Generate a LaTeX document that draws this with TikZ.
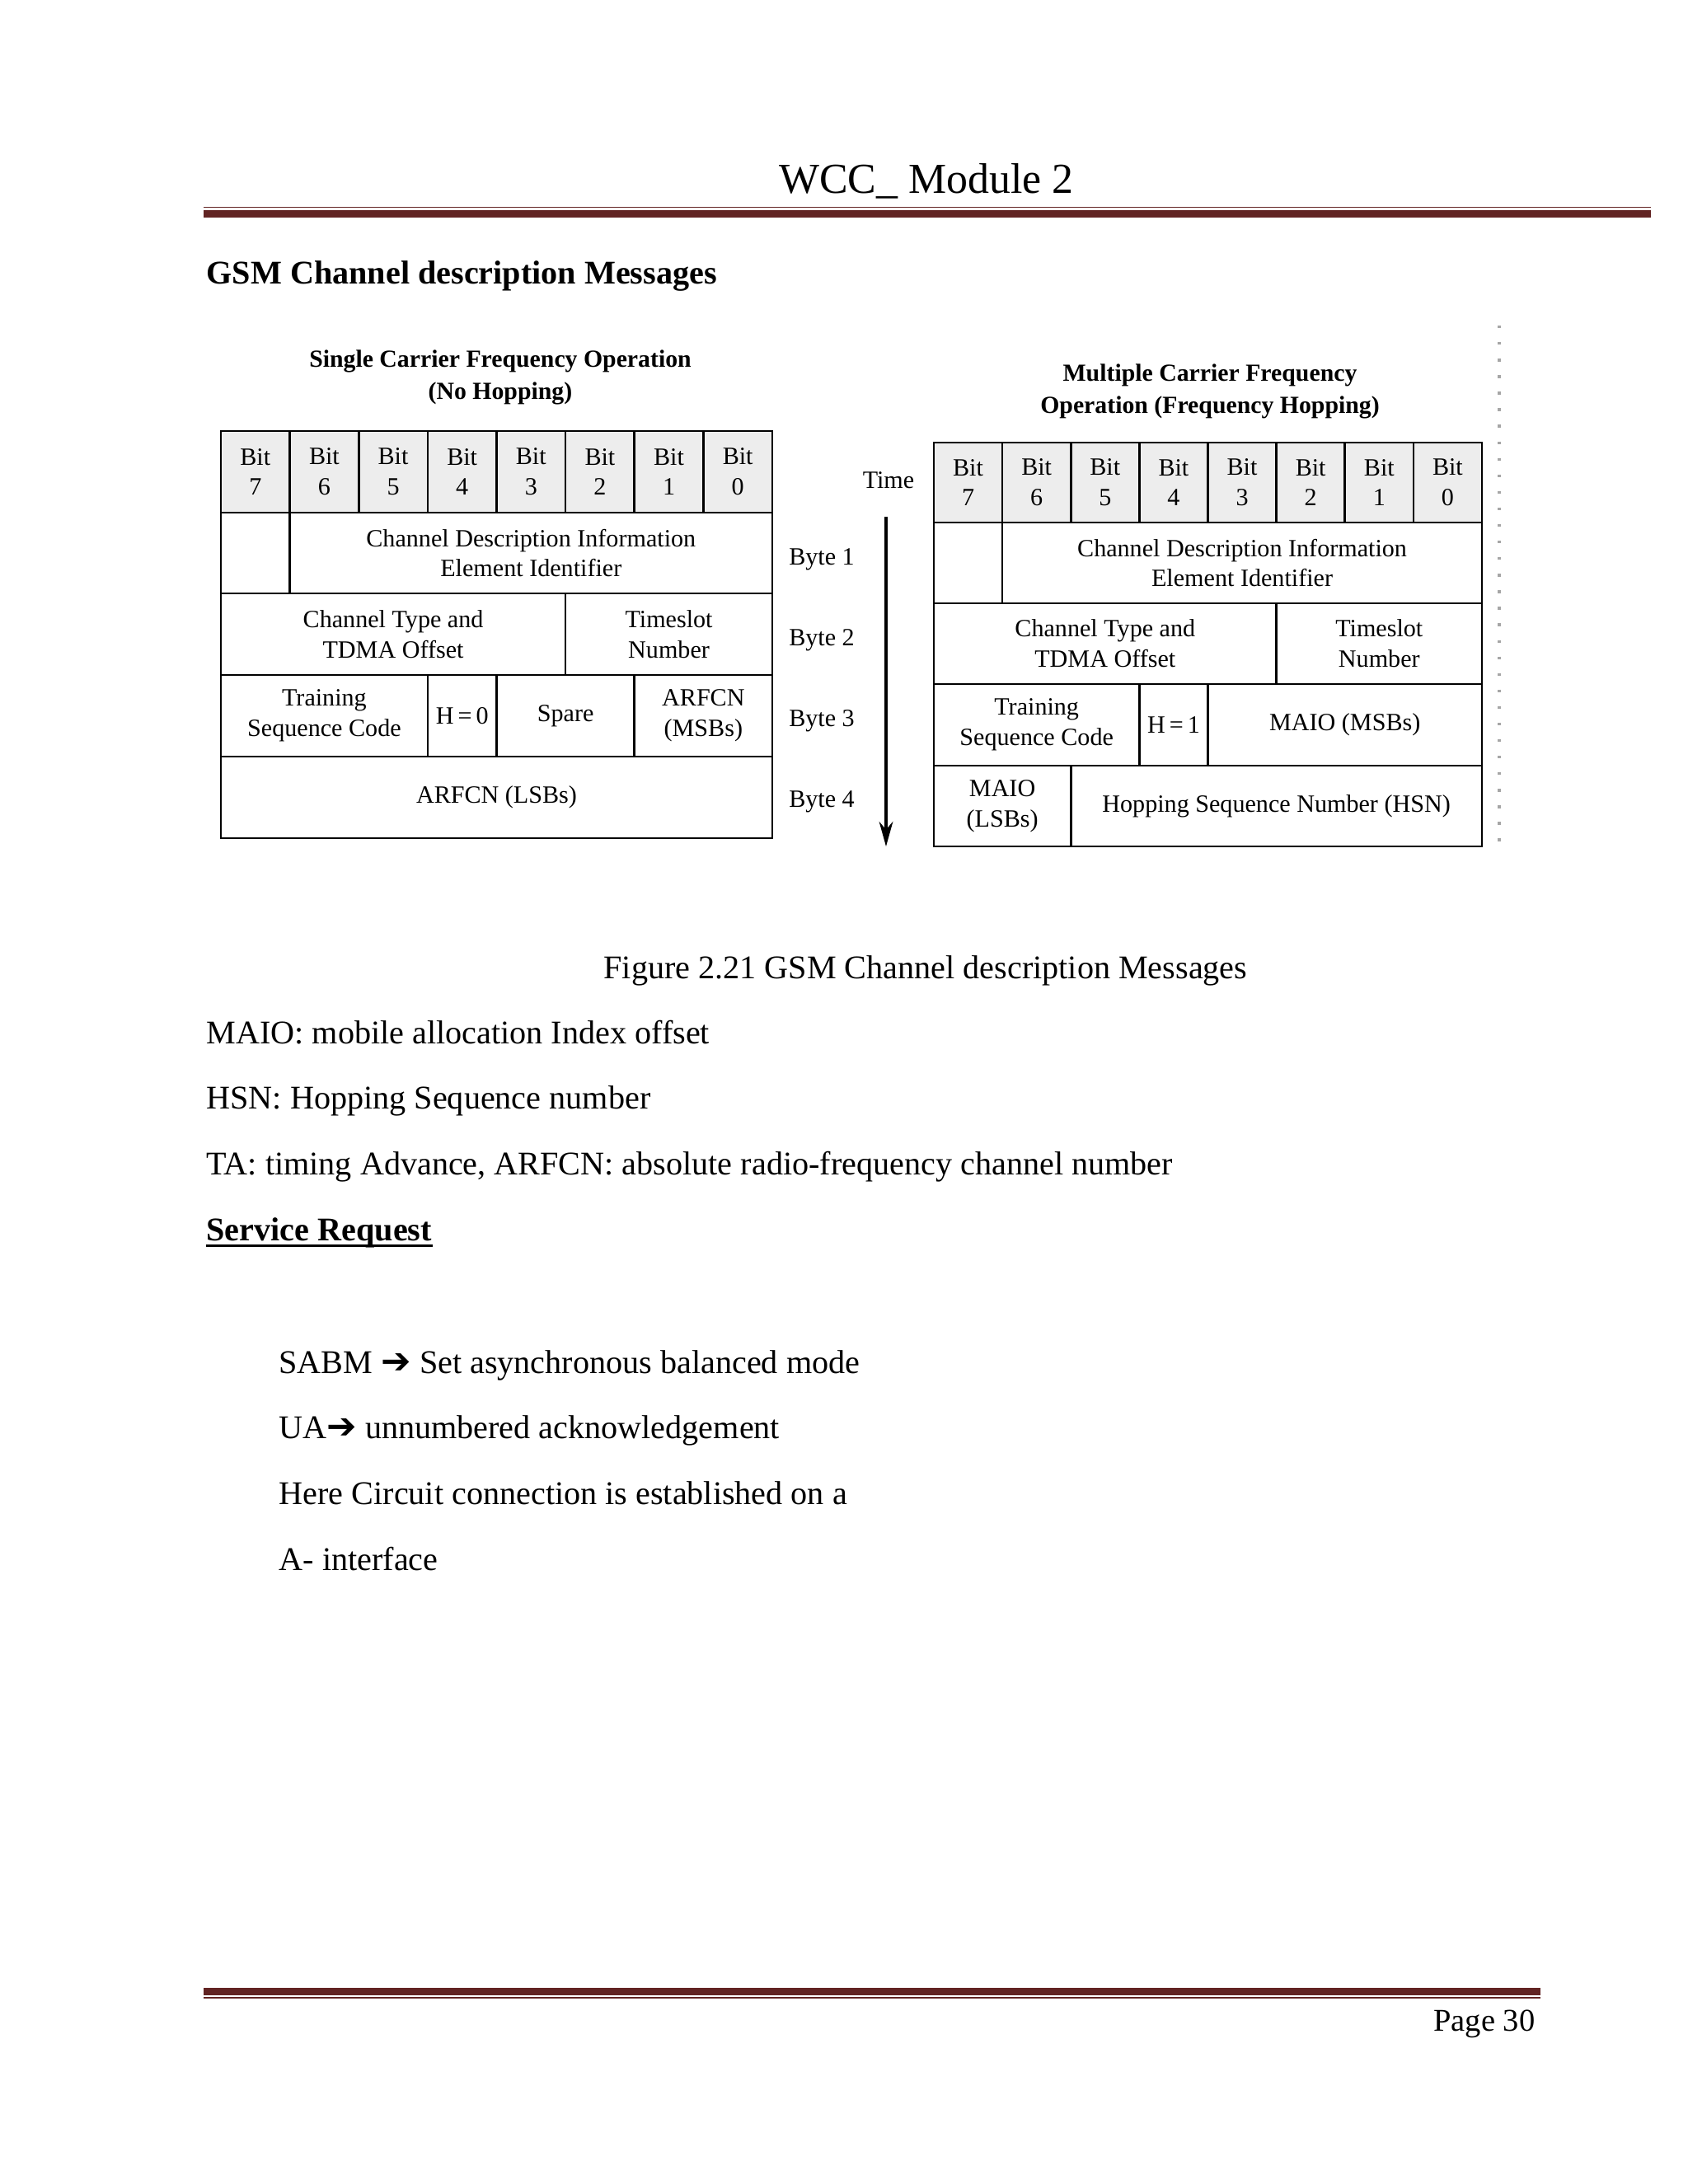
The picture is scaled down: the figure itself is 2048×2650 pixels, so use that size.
\documentclass[tikz,border=0pt]{standalone}
\usepackage{fontspec}
\setmainfont{Liberation Serif}
\newfontfamily\symfont{DejaVu Sans}
\usetikzlibrary{arrows.meta}
\definecolor{rulered}{RGB}{98,36,35}
\newcommand\gcell[7][cellbox]{\node[#1, minimum width={(#5-#3)*0.29883pt}, minimum height={(#6-#4)*0.29883pt}] (#2) at ({(#3+#5)/2},{(#4+#6)/2}) {#7};}
\newcommand\hvarrow{{\symfont\fontsize{13}{14}\selectfont ➔}}
\begin{document}
\begin{tikzpicture}[x=0.29883pt,y=-0.29883pt,
  txt/.style={inner sep=0, anchor=base west, font=\fontsize{12}{14}\selectfont},
  cellbox/.style={draw, line width=0.8pt, inner sep=0, align=center, font=\fontsize{9}{11}\selectfont},
  bitbox/.style={cellbox, fill=black!7},
  bytelbl/.style={inner sep=0, font=\fontsize{9}{11}\selectfont},
  figtitle/.style={inner sep=0, align=center, font=\fontsize{8.9}{11.7}\selectfont\bfseries}]
\useasboundingbox (0,0) rectangle (2048,2650);
\fill[white] (0,0) rectangle (2048,2650);

% header
\node[inner sep=0, anchor=base, font=\fontsize{15.5}{18}\selectfont] (hdr) at (1124,234) {WCC\_ Module 2};
\fill[rulered] (247,250.7) rectangle (2003,252.4);
\fill[rulered] (247,255) rectangle (2003,264.3);

% heading
\node[txt, font=\fontsize{12}{14}\selectfont\bfseries] (head) at (250,344) {GSM Channel description Messages};

% titles
\node[figtitle] (ltitle) at (607,458) {Single Carrier Frequency Operation\\(No Hopping)};
\node[figtitle] (rtitle) at (1468,475) {Multiple Carrier Frequency\\Operation (Frequency Hopping)};

% left table
\foreach \i in {0,...,7} {
  \pgfmathsetmacro\xa{268+\i*83.625}
  \pgfmathsetmacro\xb{268+(\i+1)*83.625}
  \pgfmathtruncatemacro\b{7-\i}
  \gcell[bitbox]{Lb\b}{\xa}{523}{\xb}{622}{Bit\\\b}
}
\gcell{Le1}{268}{622}{351.6}{720}{}
\gcell{Lid}{351.6}{622}{937}{720}{Channel Description Information\\Element Identifier}
\gcell{Lct}{268}{720}{686.1}{819}{Channel Type and\\TDMA Offset}
\gcell{Lts}{686.1}{720}{937}{819}{Timeslot\\Number}
\gcell{Ltr}{268}{819}{518.9}{918}{Training\\Sequence Code}
\gcell{Lh}{518.9}{819}{602.5}{918}{H\,=\,0}
\gcell{Lsp}{602.5}{819}{769.75}{918}{Spare}
\gcell{Lam}{769.75}{819}{937}{918}{ARFCN\\(MSBs)}
\gcell{Lal}{268}{918}{937}{1017}{ARFCN (LSBs)}

% byte labels and time arrow
\node[bytelbl] (by1) at (997,679) {Byte 1};
\node[bytelbl] (by2) at (997,777) {Byte 2};
\node[bytelbl] (by3) at (997,875) {Byte 3};
\node[bytelbl] (by4) at (997,973) {Byte 4};
\node[bytelbl] (time) at (1078,583) {Time};
\coordinate (tstart) at (1075,627);
\coordinate (tend) at (1075,1027);
\draw[line width=1pt, -{Stealth[length=9pt,width=5pt]}] (tstart) -- (tend);

% right table
\foreach \i in {0,...,7} {
  \pgfmathsetmacro\xa{1133+\i*83.125}
  \pgfmathsetmacro\xb{1133+(\i+1)*83.125}
  \pgfmathtruncatemacro\b{7-\i}
  \gcell[bitbox]{Rb\b}{\xa}{537}{\xb}{634}{Bit\\\b}
}
\gcell{Re1}{1133}{634}{1216.1}{732}{}
\gcell{Rid}{1216.1}{634}{1798}{732}{Channel Description Information\\Element Identifier}
\gcell{Rct}{1133}{732}{1548.6}{830}{Channel Type and\\TDMA Offset}
\gcell{Rts}{1548.6}{732}{1798}{830}{Timeslot\\Number}
\gcell{Rtr}{1133}{830}{1382.4}{929}{Training\\Sequence Code}
\gcell{Rh}{1382.4}{830}{1465.5}{929}{H\,=\,1}
\gcell{Rmm}{1465.5}{830}{1798}{929}{MAIO (MSBs)}
\gcell{Rml}{1133}{929}{1299.25}{1027}{MAIO\\(LSBs)}
\gcell{Rhsn}{1299.25}{929}{1798}{1027}{Hopping Sequence Number (HSN)}

% scan artifact
\draw[black!35, line width=1.2pt, dash pattern=on 1pt off 5pt] (1819,395) -- (1819,1035);

% caption and body text
\node[inner sep=0, anchor=base, font=\fontsize{12}{14}\selectfont] (cap) at (1123,1187) {Figure 2.21 GSM Channel description Messages};
\node[txt] (maio) at (250,1266) {MAIO: mobile allocation Index offset};
\node[txt] (hsn) at (250,1345) {HSN: Hopping Sequence number};
\node[txt] (ta) at (250,1425) {TA: timing Advance, ARFCN: absolute radio-frequency channel number};
\node[txt, font=\fontsize{12}{14}\selectfont\bfseries] (svc) at (250,1505) {Service Request};
\draw[line width=0.9pt] ([yshift=-1.8pt]svc.base west) -- ([yshift=-1.8pt]svc.base east);
\node[txt] (sabm) at (338,1666) {SABM \hvarrow\ Set asynchronous balanced mode};
\node[txt] (ua) at (338,1745) {UA\hvarrow\ unnumbered acknowledgement};
\node[txt] (here) at (338,1825) {Here Circuit connection is established on a};
\node[txt] (aif) at (338,1905) {A- interface};

% footer
\fill[rulered] (247,2412) rectangle (1869,2421);
\fill[rulered] (247,2423.3) rectangle (1869,2425);
\node[inner sep=0, anchor=base east, font=\fontsize{11.5}{13}\selectfont] (pg) at (1863,2464) {Page 30};
\end{tikzpicture}
\end{document}
